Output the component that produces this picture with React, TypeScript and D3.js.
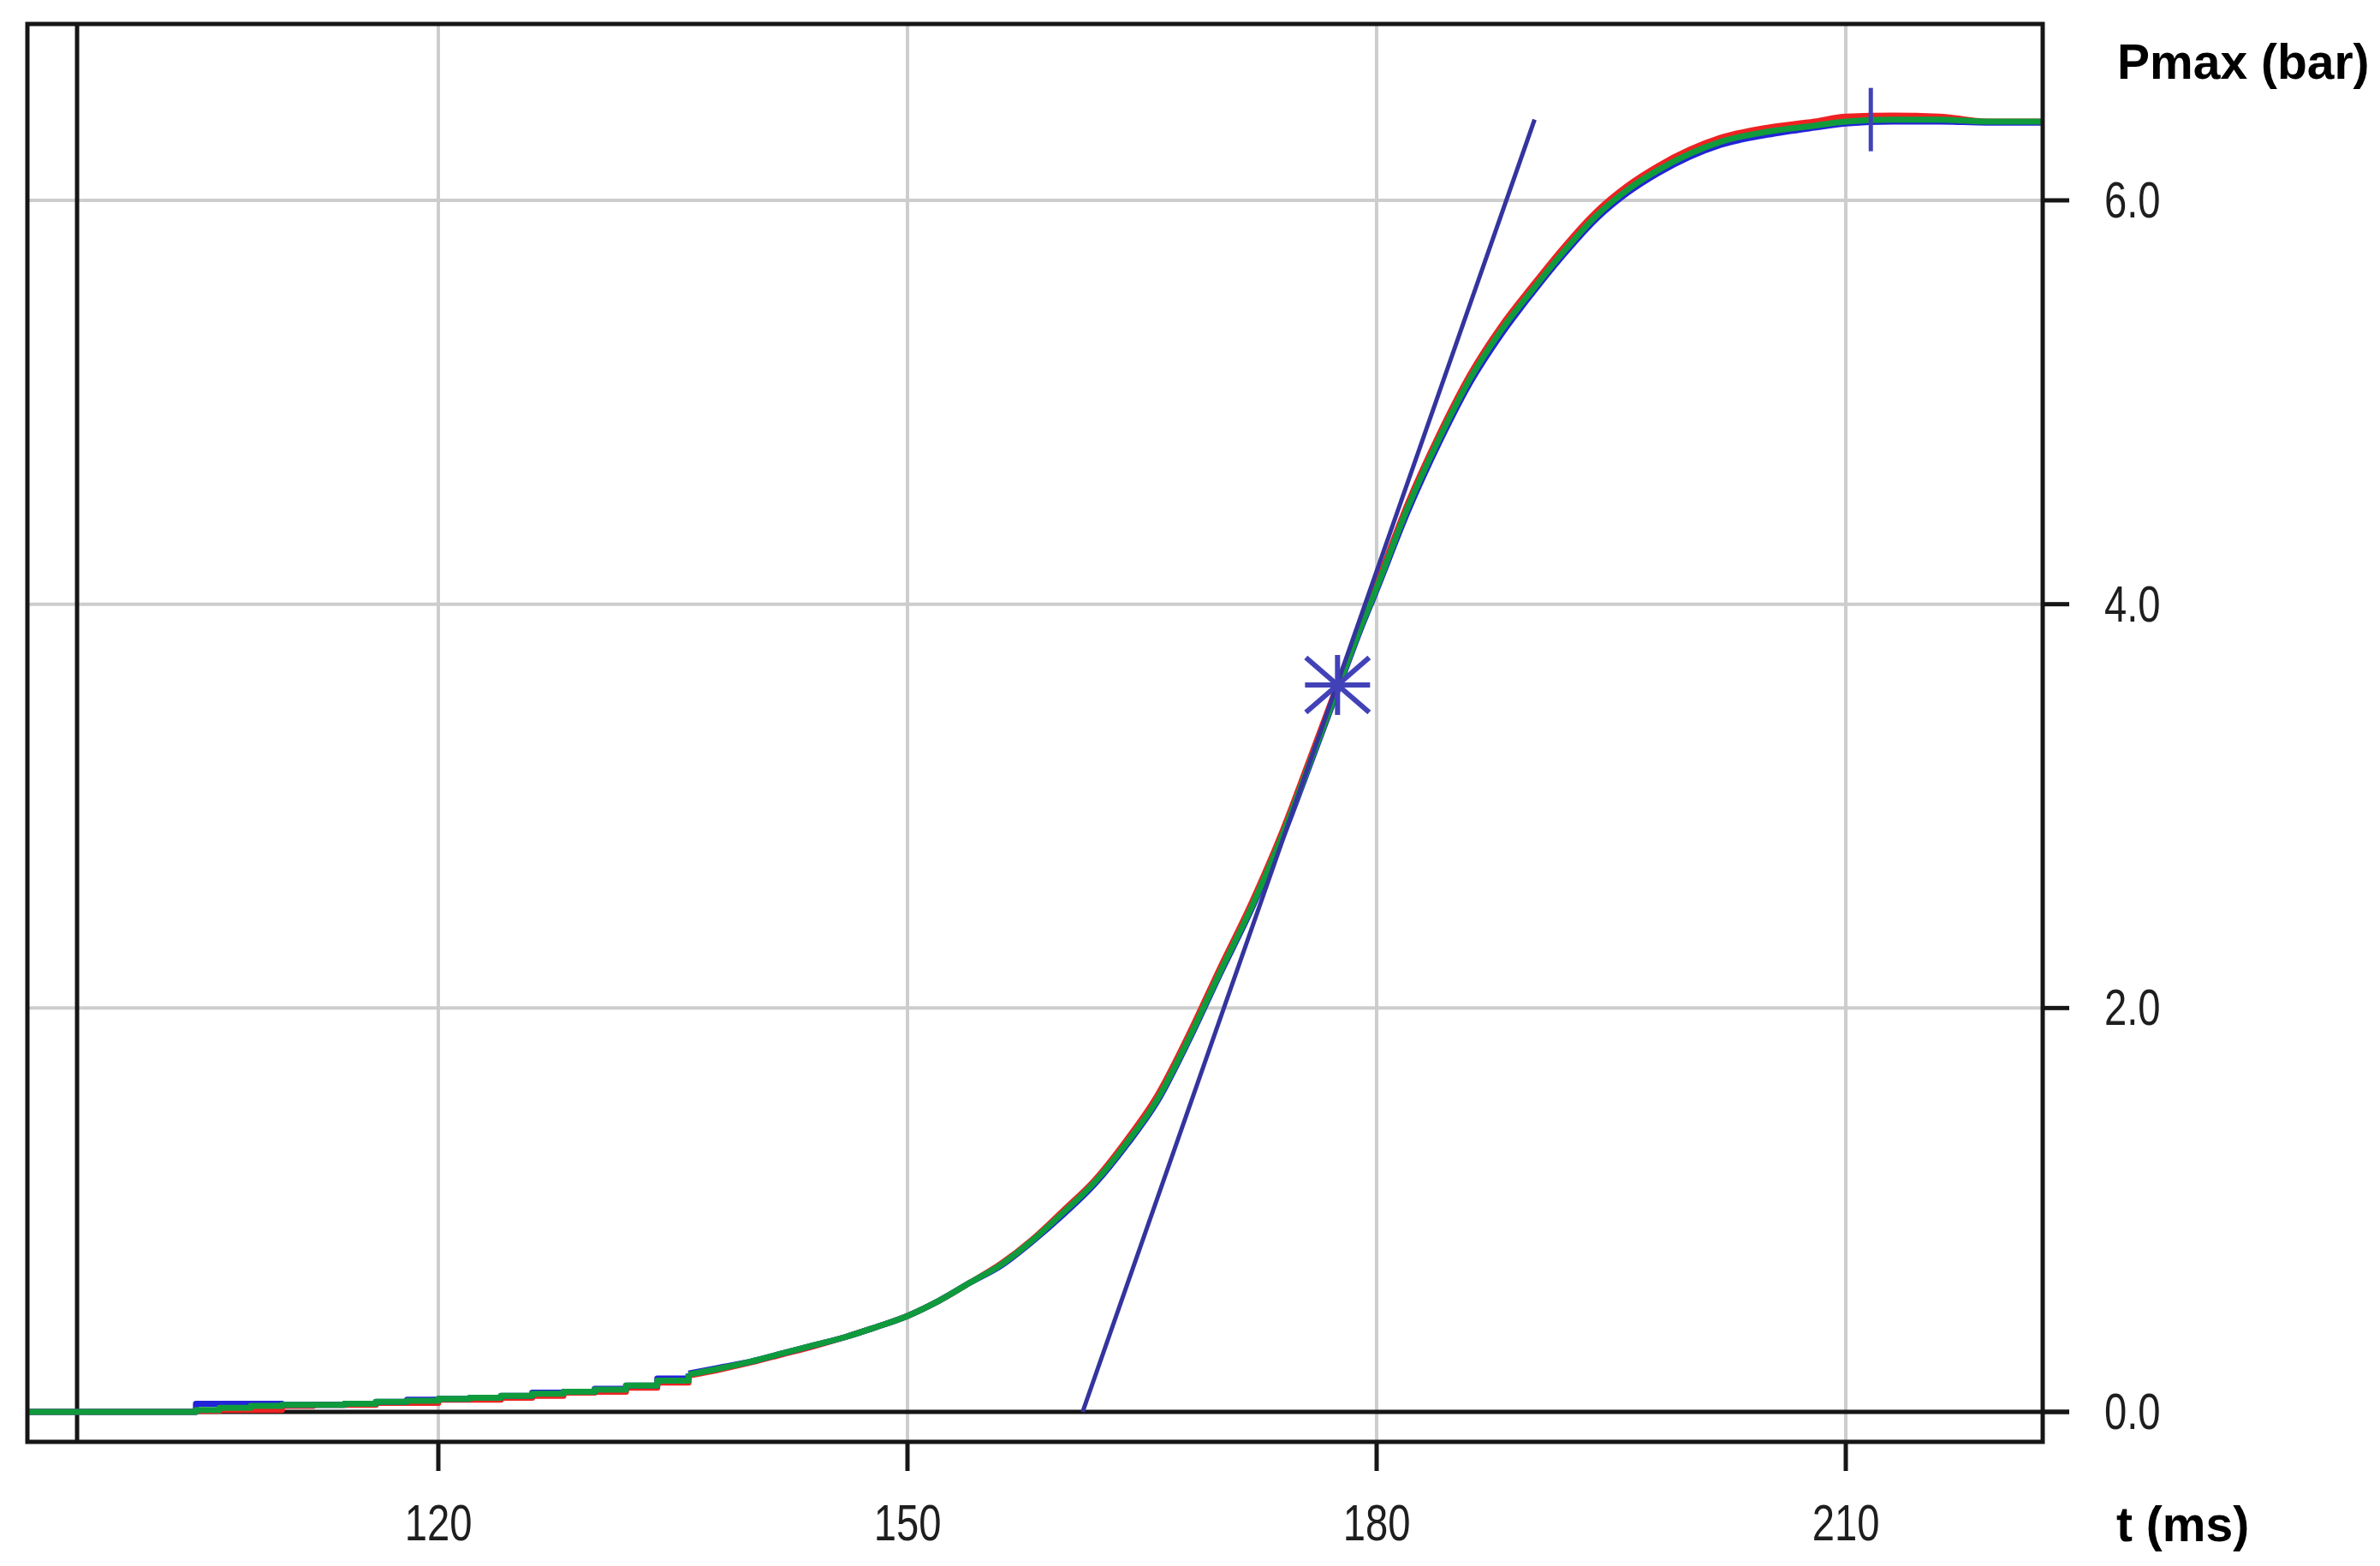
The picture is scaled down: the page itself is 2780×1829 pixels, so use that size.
import React from 'react';
import * as d3 from 'd3';

// ---- data ----
const TIME = [
  93.7, 104.5, 106, 108, 110, 112, 114, 116, 118, 120,
  122, 124, 126, 128, 130, 132, 134, 136, 138, 140,
  142, 144, 146, 148, 150, 152, 154, 156, 158, 160,
  162, 164, 166, 168, 170, 172, 174, 176, 177.5, 179,
  180, 182, 184, 186, 188, 190, 192, 194, 196, 198,
  200, 202, 205, 208, 210, 213, 216, 219, 222.6,
];

const RED = [
  0, 0.005, 0.01, 0.01, 0.03, 0.035, 0.035, 0.045, 0.045, 0.06,
  0.06, 0.07, 0.08, 0.095, 0.1, 0.12, 0.145, 0.18, 0.21, 0.245,
  0.285, 0.325, 0.37, 0.42, 0.475, 0.55, 0.64, 0.735, 0.855, 1.0,
  1.15, 1.345, 1.57, 1.87, 2.2, 2.52, 2.88, 3.29, 3.6, 3.91,
  4.1, 4.5, 4.84, 5.14, 5.38, 5.58, 5.77, 5.94, 6.07, 6.17,
  6.25, 6.31, 6.36, 6.39, 6.415, 6.42, 6.415, 6.39, 6.39,
];

const BLUE = [
  0, 0.04, 0.04, 0.04, 0.035, 0.035, 0.04, 0.05, 0.06, 0.065,
  0.07, 0.08, 0.095, 0.1, 0.115, 0.13, 0.165, 0.19, 0.22, 0.25,
  0.29, 0.33, 0.37, 0.42, 0.475, 0.55, 0.64, 0.725, 0.845, 0.98,
  1.13, 1.32, 1.54, 1.84, 2.17, 2.49, 2.85, 3.26, 3.57, 3.88,
  4.07, 4.46, 4.8, 5.1, 5.34, 5.545, 5.735, 5.905, 6.035, 6.135,
  6.215, 6.275, 6.325, 6.36, 6.38, 6.39, 6.39, 6.385, 6.385,
];

const GREEN = [
  0, 0.01, 0.02, 0.03, 0.035, 0.035, 0.04, 0.05, 0.055, 0.065,
  0.07, 0.08, 0.09, 0.1, 0.11, 0.13, 0.155, 0.185, 0.215, 0.25,
  0.29, 0.33, 0.37, 0.42, 0.475, 0.55, 0.64, 0.73, 0.85, 0.99,
  1.14, 1.33, 1.55, 1.85, 2.18, 2.5, 2.86, 3.27, 3.58, 3.89,
  4.08, 4.48, 4.82, 5.12, 5.36, 5.56, 5.75, 5.92, 6.05, 6.15,
  6.23, 6.29, 6.34, 6.37, 6.39, 6.4, 6.4, 6.39, 6.39,
];

const SERIES_NAMES = ['red', 'blue', 'green'];
const SERIES_COLORS = ['#ee2222', '#2323d8', '#0f9b3c'];

const TANGENT_T = [161.2, 190.1];
const TANGENT_P = [0, 6.4];
const ASTERISK_T = 177.5;
const ASTERISK_P = 3.6;
const PLUS_T = 211.6;
const PLUS_P = 6.4;
const REF_LINE_T = 96.9;
const STEP_END_T = 136;

const X_TICKS = [120, 150, 180, 210];
const Y_TICKS = [0, 2, 4, 6];
const X_TITLE = 't (ms)';
const Y_TITLE = 'Pmax (bar)';

export default function App() {
  const W = 2780;
  const H = 1829;
  const frame = { l: 32, t: 28, r: 2386, b: 1684 };
  const x = d3.scaleLinear().domain([120, 210]).range([512, 2156]);
  const y = d3.scaleLinear().domain([0, 6]).range([1649, 234]);

  const seriesValues = [RED, BLUE, GREEN];
  const stepLine = d3
    .line<[number, number]>()
    .x((d) => x(d[0]))
    .y((d) => y(d[1]))
    .curve(d3.curveStepAfter);
  const smoothLine = d3
    .line<[number, number]>()
    .x((d) => x(d[0]))
    .y((d) => y(d[1]))
    .curve(d3.curveMonotoneX);

  const tickLabelFont = "'Liberation Sans', Arial, sans-serif";
  const titleFont = "'Liberation Sans', Arial, sans-serif";
  const gridColor = '#cdcdcd';
  const axisColor = '#161616';
  const markColor = '#4242b8';

  const tx0 = x(TANGENT_T[0]);
  const ty0 = y(TANGENT_P[0]);
  const tx1 = x(TANGENT_T[1]);
  const ty1 = y(TANGENT_P[1]);

  const ax = x(ASTERISK_T);
  const ay = y(ASTERISK_P);
  const px = x(PLUS_T);
  const py = y(PLUS_P);

  return (
    <svg
      width={W}
      height={H}
      style={{ position: 'absolute', left: 0, top: 0, background: '#ffffff' }}
    >
      <defs>
        <clipPath id="plotClip">
          <rect x={frame.l} y={frame.t} width={frame.r - frame.l} height={frame.b - frame.t} />
        </clipPath>
      </defs>
      <rect x={0} y={0} width={W} height={H} fill="#ffffff" />

      {/* grid */}
      {X_TICKS.map((t) => (
        <line key={'gx' + t} x1={x(t)} x2={x(t)} y1={frame.t} y2={frame.b} stroke={gridColor} strokeWidth={4} />
      ))}
      {Y_TICKS.filter((v) => v !== 0).map((v) => (
        <line key={'gy' + v} x1={frame.l} x2={frame.r} y1={y(v)} y2={y(v)} stroke={gridColor} strokeWidth={4} />
      ))}

      {/* zero baseline */}
      <line x1={frame.l} x2={frame.r + 31} y1={y(0)} y2={y(0)} stroke={axisColor} strokeWidth={5} />
      {/* reference vertical line */}
      <line x1={x(REF_LINE_T)} x2={x(REF_LINE_T)} y1={frame.t} y2={frame.b} stroke={axisColor} strokeWidth={5} />

      {/* plus marker horizontal arm (under curves) */}
      <line x1={px - 36} x2={px + 36} y1={py} y2={py} stroke={markColor} strokeWidth={4} />

      {/* curves */}
      <g clipPath="url(#plotClip)">
        {seriesValues.map((vals, si) => {
          const pts: [number, number][] = TIME.map((t, i) => [t, vals[i]]);
          const tail = pts.filter((d) => d[0] <= STEP_END_T);
          const rise = pts.filter((d) => d[0] >= STEP_END_T);
          return (
            <g key={SERIES_NAMES[si]}>
              <path d={stepLine(tail) || ''} fill="none" stroke={SERIES_COLORS[si]} strokeWidth={7} strokeLinejoin="round" />
              <path d={smoothLine(rise) || ''} fill="none" stroke={SERIES_COLORS[si]} strokeWidth={7} strokeLinejoin="round" />
            </g>
          );
        })}
      </g>

      {/* tangent */}
      <line x1={tx0} y1={ty0} x2={tx1} y2={ty1} stroke="#34349e" strokeWidth={5} />

      {/* asterisk */}
      <g stroke={markColor} strokeWidth={6} strokeLinecap="butt">
        <line x1={ax - 38} x2={ax + 38} y1={ay} y2={ay} />
        <line x1={ax} x2={ax} y1={ay - 35} y2={ay + 35} />
        <line x1={ax - 37} x2={ax + 37} y1={ay - 32} y2={ay + 32} />
        <line x1={ax - 37} x2={ax + 37} y1={ay + 32} y2={ay - 32} />
      </g>

      {/* plus marker vertical arm */}
      <line x1={px} x2={px} y1={py - 37} y2={py + 37} stroke={markColor} strokeWidth={5} />

      {/* frame */}
      <rect
        x={frame.l}
        y={frame.t}
        width={frame.r - frame.l}
        height={frame.b - frame.t}
        fill="none"
        stroke={axisColor}
        strokeWidth={5}
      />

      {/* y ticks and labels */}
      {Y_TICKS.map((v) => (
        <g key={'yt' + v}>
          <line x1={frame.r} x2={frame.r + 31} y1={y(v)} y2={y(v)} stroke={axisColor} strokeWidth={5} />
          <text
            transform={`translate(2458,${y(v) + 20}) scale(0.8,1)`}
            fontFamily={tickLabelFont}
            fontSize={59}
            fill="#1e1e1e"
          >
            {v.toFixed(1)}
          </text>
        </g>
      ))}

      {/* x ticks and labels */}
      {X_TICKS.map((t) => (
        <g key={'xt' + t}>
          <line x1={x(t)} x2={x(t)} y1={frame.b} y2={frame.b + 34} stroke={axisColor} strokeWidth={5} />
          <text
            transform={`translate(${x(t)},1799) scale(0.8,1)`}
            textAnchor="middle"
            fontFamily={tickLabelFont}
            fontSize={59}
            fill="#1e1e1e"
          >
            {String(t)}
          </text>
        </g>
      ))}

      {/* axis titles */}
      <text x={2473} y={92} fontFamily={titleFont} fontWeight="bold" fontSize={57} fill="#000">
        {Y_TITLE}
      </text>
      <text x={2472} y={1800} fontFamily={titleFont} fontWeight="bold" fontSize={57} fill="#000">
        {X_TITLE}
      </text>
    </svg>
  );
}
